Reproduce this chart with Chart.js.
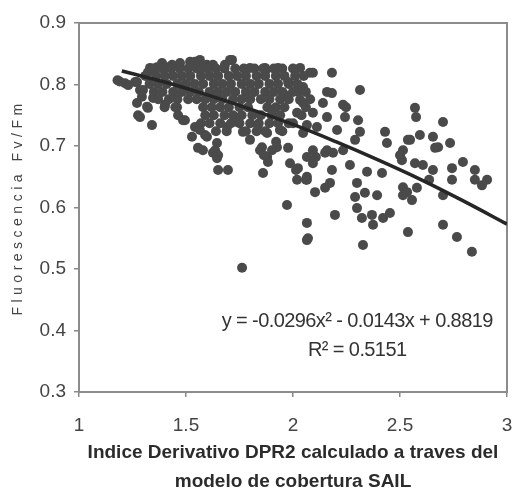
<!DOCTYPE html>
<html>
<head>
<meta charset="utf-8">
<script src="https://cdn.jsdelivr.net/npm/chart.js@4.4.1/dist/chart.umd.min.js"></script>
<style>
  html, body { margin: 0; padding: 0; background: #fff; }
</style>
</head>
<body>
<canvas id="scatter-chart" width="512" height="488"></canvas>
<script>
// Indice DPR2 (eje x) y Fv/Fm (eje y)
const dprValues = [
  // borde izquierdo y puntos sueltos
  1.18, 1.19, 1.215, 1.23, 1.262, 1.271, 1.285, 1.271, 1.294, 1.276,
  1.285, 1.322, 1.341, 1.346, 1.402, 1.458, 1.463, 1.486, 1.528, 1.556,
  1.318, 1.299, 1.322, 1.332, 1.364, 1.388, 1.411, 1.435, 1.472, 1.519,
  1.542, 1.565, 1.598, 1.612, 1.626, 1.682, 1.706, 1.715, 1.579, 1.799,
  1.869, 1.930, 2.033, 2.079, 1.874, 1.977, 2.033, 2.033, 1.963, 1.902,
  2.019, 2.065, 2.000, 1.939, 1.879, 1.836, 1.799, 1.855, 1.902, 1.977,
  1.598, 1.645, 1.692, 1.738, 1.766, 1.579, 1.626, 1.645, 1.650, 1.696,
  1.636, 1.650, 1.846, 1.879, 1.883, 1.860, 1.925, 1.986, 2.023, 2.019,
  2.065, 1.972, 2.065, 2.065, 1.589, 1.565, 1.542, 1.495, 1.762,
  // zona media
  2.047, 2.093, 2.182, 2.313, 2.159, 2.182, 2.047, 2.140, 2.234, 2.243,
  2.093, 2.159, 2.304, 2.313, 2.430, 2.439, 2.047, 2.112, 2.206, 2.093,
  2.159, 2.234, 2.500, 2.547, 2.248, 2.028,
  // zona derecha
  2.570, 2.575, 2.701, 2.593, 2.654, 2.664, 2.734, 2.537, 2.514, 2.509,
  2.570, 2.607, 2.654, 2.743, 2.743, 2.794, 2.850, 2.850, 2.907, 2.883,
  2.636, 2.678,
  // zona baja
  2.065, 2.093, 2.182, 2.266, 2.290, 2.150, 2.187, 2.346, 2.416, 2.514,
  2.533, 2.065, 2.103, 2.150, 2.173, 2.299, 2.290, 2.336, 2.393, 2.299,
  2.322, 2.369, 2.374, 2.421, 2.453, 2.196, 2.070, 2.327, 2.537, 2.701,
  2.766, 2.836, 2.701, 2.556, 2.514, 2.579, 2.107, 2.014, 2.061, 1.921,
  1.864,
  // nube densa
  1.35, 1.39, 1.43, 1.47, 1.51, 1.55, 1.60, 1.64, 1.68, 1.73, 1.77, 1.82, 1.86, 1.91, 1.95, 2.00,
  1.31, 1.36, 1.40, 1.44, 1.48, 1.52, 1.57, 1.61, 1.65, 1.70, 1.74, 1.78, 1.83, 1.87, 1.92, 1.96, 2.01, 2.05,
  1.33, 1.37, 1.41, 1.46, 1.50, 1.54, 1.58, 1.63, 1.67, 1.71, 1.76, 1.80, 1.84, 1.89, 1.93, 1.98, 2.02,
  1.35, 1.39, 1.44, 1.48, 1.52, 1.56, 1.61, 1.65, 1.69, 1.73, 1.78, 1.82, 1.87, 1.91, 1.95, 2.00, 2.06,
  1.37, 1.42, 1.46, 1.51, 1.55, 1.59, 1.63, 1.67, 1.72, 1.76, 1.80, 1.85, 1.89, 1.94, 1.98, 2.08,
  1.40, 1.45, 1.58, 1.62, 1.66, 1.70, 1.75, 1.79, 1.88, 1.92, 1.96, 2.06,
  1.59, 1.63, 1.68, 1.72, 1.76, 1.81, 1.85, 1.90, 1.94, 2.04,
  1.57, 1.61, 1.66, 1.71, 1.75, 1.80, 1.84, 1.89, 1.93, 1.98,
  1.64, 1.69, 1.78, 1.83, 1.87, 1.95
];

const fvfmValues = [
  0.807, 0.805, 0.802, 0.799, 0.804, 0.804, 0.791, 0.770, 0.780, 0.750,
  0.747, 0.762, 0.734, 0.778, 0.767, 0.763, 0.750, 0.742, 0.715, 0.697,
  0.764, 0.791, 0.820, 0.827, 0.828, 0.835, 0.828, 0.832, 0.835, 0.837,
  0.837, 0.840, 0.832, 0.828, 0.832, 0.832, 0.840, 0.840, 0.828, 0.827,
  0.827, 0.827, 0.827, 0.819, 0.824, 0.804, 0.794, 0.775, 0.783, 0.759,
  0.754, 0.734, 0.737, 0.726, 0.721, 0.734, 0.710, 0.698, 0.693, 0.697,
  0.715, 0.705, 0.731, 0.739, 0.723, 0.693, 0.689, 0.680, 0.661, 0.661,
  0.693, 0.685, 0.693, 0.682, 0.674, 0.656, 0.698, 0.672, 0.664, 0.645,
  0.650, 0.604, 0.575, 0.547, 0.718, 0.726, 0.731, 0.742, 0.502,

  0.796, 0.819, 0.819, 0.791, 0.788, 0.786, 0.770, 0.770, 0.767, 0.747,
  0.754, 0.747, 0.742, 0.723, 0.723, 0.705, 0.721, 0.731, 0.726, 0.693,
  0.693, 0.693, 0.685, 0.710, 0.763, 0.788,

  0.762, 0.747, 0.739, 0.718, 0.715, 0.697, 0.705, 0.710, 0.693, 0.677,
  0.672, 0.669, 0.661, 0.664, 0.645, 0.674, 0.661, 0.645, 0.645, 0.636,
  0.645, 0.698,

  0.682, 0.672, 0.661, 0.669, 0.710, 0.689, 0.689, 0.658, 0.656, 0.633,
  0.625, 0.645, 0.625, 0.632, 0.640, 0.640, 0.617, 0.624, 0.620, 0.599,
  0.583, 0.588, 0.572, 0.583, 0.591, 0.588, 0.550, 0.539, 0.560, 0.572,
  0.552, 0.528, 0.620, 0.612, 0.620, 0.632, 0.682, 0.661, 0.645, 0.707,
  0.685,

  0.826, 0.826, 0.826, 0.826, 0.826, 0.826, 0.826, 0.826, 0.826, 0.826, 0.826, 0.826, 0.826, 0.826, 0.826, 0.826,
  0.814, 0.814, 0.814, 0.814, 0.814, 0.814, 0.814, 0.814, 0.814, 0.814, 0.814, 0.814, 0.814, 0.814, 0.814, 0.814, 0.814, 0.814,
  0.801, 0.801, 0.801, 0.801, 0.801, 0.801, 0.801, 0.801, 0.801, 0.801, 0.801, 0.801, 0.801, 0.801, 0.801, 0.801, 0.801,
  0.788, 0.788, 0.788, 0.788, 0.788, 0.788, 0.788, 0.788, 0.788, 0.788, 0.788, 0.788, 0.788, 0.788, 0.788, 0.788, 0.788,
  0.776, 0.776, 0.776, 0.776, 0.776, 0.776, 0.776, 0.776, 0.776, 0.776, 0.776, 0.776, 0.776, 0.776, 0.776, 0.776,
  0.763, 0.763, 0.763, 0.763, 0.763, 0.763, 0.763, 0.763, 0.763, 0.763, 0.763, 0.763,
  0.750, 0.750, 0.750, 0.750, 0.750, 0.750, 0.750, 0.750, 0.750, 0.750,
  0.737, 0.737, 0.737, 0.737, 0.737, 0.737, 0.737, 0.737, 0.737, 0.737,
  0.724, 0.724, 0.724, 0.724, 0.724, 0.724
];

// linea de tendencia polinomica
const trendX = [1.2, 1.4, 1.6, 1.8, 2.0, 2.2, 2.4, 2.6, 2.8, 3.0];
const trendY = [0.822, 0.804, 0.783, 0.760, 0.735, 0.707, 0.677, 0.645, 0.610, 0.573];

const equationText = 'y = -0.0296x² - 0.0143x + 0.8819';
const r2Text = 'R² = 0.5151';
const yTitle = 'Fluorescencia Fv/Fm';
const xTitle = ['Indice Derivativo DPR2 calculado a traves del', 'modelo de cobertura SAIL'];

const FONT = "'Liberation Sans', Arial, sans-serif";

const scatterPoints = dprValues.map((x, i) => ({ x: x, y: fvfmValues[i] }));
const trendPoints = trendX.map((x, i) => ({ x: x, y: trendY[i] }));

// marco del area de trazado + titulo eje y + ecuacion
const extrasPlugin = {
  id: 'extras',
  beforeDatasetsDraw(chart) {
    const { ctx, chartArea } = chart;
    ctx.save();
    ctx.strokeStyle = '#8c8c8c';
    ctx.lineWidth = 2;
    ctx.strokeRect(chartArea.left, chartArea.top, chartArea.right - chartArea.left, chartArea.bottom - chartArea.top);
    ctx.restore();
  },
  afterDraw(chart) {
    const { ctx, chartArea } = chart;
    const xs = chart.scales.x;
    const ys = chart.scales.y;

    ctx.save();
    ctx.fillStyle = '#444';
    ctx.font = '14px ' + FONT;
    ctx.letterSpacing = '4.5px';
    ctx.textAlign = 'center';
    ctx.textBaseline = 'middle';
    ctx.translate(18, (chartArea.top + chartArea.bottom) / 2);
    ctx.rotate(-Math.PI / 2);
    ctx.fillText(yTitle, 0, 0);
    ctx.restore();

    ctx.save();
    ctx.fillStyle = '#333';
    ctx.font = '20px ' + FONT;
    ctx.letterSpacing = '-0.6px';
    ctx.textAlign = 'center';
    ctx.textBaseline = 'middle';
    ctx.fillText(equationText, xs.getPixelForValue(2.3), ys.getPixelForValue(0.414));
    ctx.fillText(r2Text, xs.getPixelForValue(2.3), ys.getPixelForValue(0.367));
    ctx.restore();
  }
};

const ctx = document.getElementById('scatter-chart').getContext('2d');
const chart = new Chart(ctx, {
  type: 'scatter',
  data: {
    datasets: [
      {
        label: 'Tendencia',
        data: trendPoints,
        showLine: true,
        borderColor: '#262626',
        borderWidth: 3.5,
        pointRadius: 0,
        tension: 0.4,
        order: 0
      },
      {
        label: 'Fv/Fm',
        data: scatterPoints,
        backgroundColor: '#4a4a4a',
        borderWidth: 0,
        pointRadius: 5,
        order: 1
      }
    ]
  },
  options: {
    responsive: false,
    animation: false,
    devicePixelRatio: 1,
    layout: { padding: { top: 23, right: 0, left: 0, bottom: -8 } },
    plugins: {
      legend: { display: false },
      tooltip: { enabled: false }
    },
    scales: {
      x: {
        type: 'linear',
        min: 1,
        max: 3,
        ticks: {
          stepSize: 0.5,
          color: '#444',
          padding: 17,
          font: { family: FONT, size: 19 },
          callback: (v) => String(v)
        },
        grid: { drawOnChartArea: false, tickLength: 5, color: '#888', lineWidth: 1.5 },
        border: { display: false },
        title: {
          display: true,
          text: xTitle,
          color: '#2b2b2b',
          font: { family: FONT, size: 19, weight: 'bold', lineHeight: 1.5 },
          padding: { top: 0, bottom: 0 }
        },
        afterFit(scale) {
          scale.height = 104;
          scale.paddingRight = 5;
        }
      },
      y: {
        type: 'linear',
        min: 0.3,
        max: 0.9,
        ticks: {
          stepSize: 0.1,
          color: '#444',
          padding: 8,
          font: { family: FONT, size: 19 }
        },
        grid: { drawOnChartArea: false, tickLength: 5, color: '#888', lineWidth: 1.5 },
        border: { display: false },
        afterFit(scale) { scale.width = 79; }
      }
    }
  },
  plugins: [extrasPlugin]
});
</script>
</body>
</html>
